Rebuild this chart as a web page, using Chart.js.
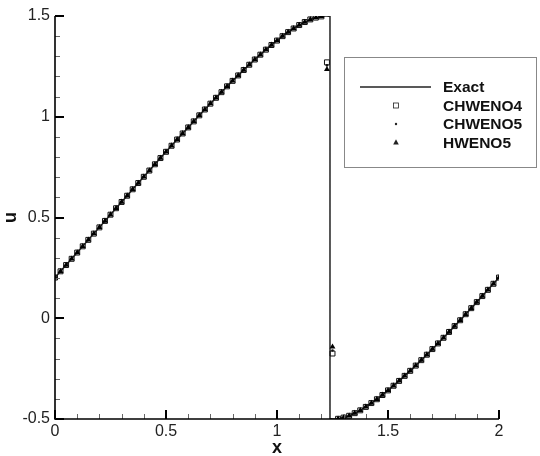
<!DOCTYPE html>
<html>
<head>
<meta charset="utf-8">
<script src="https://cdn.jsdelivr.net/npm/chart.js@4.4.1/dist/chart.umd.min.js"></script>
<style>
  html, body { margin: 0; padding: 0; background: #fff; }
  #wrap { width: 540px; height: 456px; }
</style>
</head>
<body>
<div id="wrap"><canvas id="chart" width="540" height="456"></canvas></div>
<script>
// grid points of the numerical solutions
const xGrid = [
  0, 0.025, 0.05, 0.075, 0.1, 0.125, 0.15, 0.175, 0.2, 0.225,
  0.25, 0.275, 0.3, 0.325, 0.35, 0.375, 0.4, 0.425, 0.45, 0.475,
  0.5, 0.525, 0.55, 0.575, 0.6, 0.625, 0.65, 0.675, 0.7, 0.725,
  0.75, 0.775, 0.8, 0.825, 0.85, 0.875, 0.9, 0.925, 0.95, 0.975,
  1, 1.025, 1.05, 1.075, 1.1, 1.125, 1.15, 1.175, 1.2, 1.225,
  1.25, 1.275, 1.3, 1.325, 1.35, 1.375, 1.4, 1.425, 1.45, 1.475,
  1.5, 1.525, 1.55, 1.575, 1.6, 1.625, 1.65, 1.675, 1.7, 1.725,
  1.75, 1.775, 1.8, 1.825, 1.85, 1.875, 1.9, 1.925, 1.95, 1.975, 2
];
// values where all schemes sit on the exact curve (null = cells at the shock)
const uSmooth = [
  0.202, 0.233, 0.264, 0.295, 0.326, 0.357, 0.389, 0.420, 0.451, 0.483,
  0.514, 0.546, 0.577, 0.608, 0.640, 0.671, 0.702, 0.733, 0.764, 0.795,
  0.826, 0.856, 0.887, 0.917, 0.947, 0.977, 1.007, 1.036, 1.065, 1.094,
  1.122, 1.151, 1.178, 1.205, 1.232, 1.258, 1.284, 1.308, 1.333, 1.356,
  1.378, 1.400, 1.420, 1.438, 1.455, 1.470, 1.483, 1.492, 1.498, null,
  null, -0.499, -0.493, -0.484, -0.471, -0.457, -0.440, -0.421, -0.402, -0.381,
  -0.358, -0.335, -0.311, -0.286, -0.261, -0.235, -0.208, -0.181, -0.153, -0.125,
  -0.097, -0.068, -0.039, -0.010, 0.020, 0.050, 0.080, 0.110, 0.141, 0.171, 0.202
];
// the two cells in the shock, per scheme
const shockX = [1.225, 1.25];
const chweno4Shock = [1.27, -0.175];
const chweno5Shock = [1.255, -0.16];
const hweno5Shock = [1.235, -0.142];
// extra points of the exact solution round the shock
const exactShockX = [1.2162, 1.2253, 1.2387, 1.2387, 1.25, 1.2613];
const exactShockU = [1.5, 1.4996, 1.4972, -0.4972, -0.4995, -0.5];

const xTickLabels = ['0', '0.5', '1', '1.5', '2'];
const yTickLabels = ['-0.5', '0', '0.5', '1', '1.5'];
const seriesNames = ['Exact', 'CHWENO4', 'CHWENO5', 'HWENO5'];

function schemePoints(shockVals) {
    const pts = [];
    xGrid.forEach((x, i) => {
        const k = shockX.indexOf(x);
        const u = k >= 0 ? shockVals[k] : uSmooth[i];
        pts.push({ x: x, y: u });
    });
    return pts;
}

// exact: smooth points left of the shock, the shock itself, then the right side
const exactPts = [];
xGrid.forEach((x, i) => {
    if (uSmooth[i] !== null && x < exactShockX[2]) exactPts.push({ x: x, y: uSmooth[i] });
});
exactShockX.forEach((x, i) => exactPts.push({ x: x, y: exactShockU[i] }));
xGrid.forEach((x, i) => {
    if (uSmooth[i] !== null && x > exactShockX[5]) exactPts.push({ x: x, y: uSmooth[i] });
});

const FONT = "'Liberation Sans', Arial, sans-serif";

// white background
const bgPlugin = {
    id: 'bg',
    beforeDraw(chart) {
        const ctx = chart.ctx;
        ctx.save();
        ctx.fillStyle = '#fff';
        ctx.fillRect(0, 0, chart.width, chart.height);
        ctx.restore();
    }
};

// inward ticks, major every 0.5 and minor every 0.1
const tickPlugin = {
    id: 'inTicks',
    afterDatasetsDraw(chart) {
        const { ctx, scales: { x, y }, chartArea: a } = chart;
        ctx.save();
        for (let i = 0; i <= 20; i++) {
            const major = i % 5 === 0;
            ctx.strokeStyle = major ? '#000' : '#666';
            ctx.lineWidth = major ? 2 : 1;
            const px = Math.round(x.getPixelForValue(i / 10)) + (major ? 0 : 0.5);
            ctx.beginPath();
            ctx.moveTo(px, a.bottom);
            ctx.lineTo(px, a.bottom - (major ? 9 : 5));
            ctx.stroke();
            const py = Math.round(y.getPixelForValue(-0.5 + i / 10)) + (major ? 0 : 0.5);
            ctx.beginPath();
            ctx.moveTo(a.left, py);
            ctx.lineTo(a.left + (major ? 9 : 5), py);
            ctx.stroke();
        }
        ctx.strokeStyle = '#000';
        ctx.lineWidth = 1.6;
        ctx.beginPath();
        ctx.moveTo(a.left, a.top);
        ctx.lineTo(a.left, a.bottom);
        ctx.lineTo(a.right, a.bottom);
        ctx.stroke();
        ctx.restore();
    }
};

// legend box inside the plot
const legendPlugin = {
    id: 'boxLegend',
    afterDraw(chart) {
        const ctx = chart.ctx;
        ctx.save();
        ctx.fillStyle = '#fff';
        ctx.fillRect(344.5, 57.5, 192, 110);
        ctx.strokeStyle = '#888';
        ctx.lineWidth = 1;
        ctx.strokeRect(344.5, 57.5, 192, 110);
        const rows = [87, 105.5, 124, 142.5];
        const mx = 396;
        ctx.strokeStyle = '#222';
        ctx.lineWidth = 1.5;
        ctx.beginPath();
        ctx.moveTo(360, rows[0]);
        ctx.lineTo(431, rows[0]);
        ctx.stroke();
        ctx.lineWidth = 0.8;
        ctx.strokeRect(mx - 2.5, rows[1] - 2.5, 5, 5);
        ctx.fillStyle = '#222';
        ctx.beginPath();
        ctx.arc(mx, rows[2], 1.2, 0, Math.PI * 2);
        ctx.fill();
        ctx.beginPath();
        ctx.moveTo(mx, rows[3] - 3.2);
        ctx.lineTo(mx + 2.8, rows[3] + 2);
        ctx.lineTo(mx - 2.8, rows[3] + 2);
        ctx.closePath();
        ctx.fill();
        ctx.fillStyle = '#111';
        ctx.font = 'bold 15.5px ' + FONT;
        ctx.textBaseline = 'middle';
        seriesNames.forEach((n, i) => ctx.fillText(n, 443, rows[i] + 1));
        ctx.restore();
    }
};

new Chart(document.getElementById('chart'), {
    type: 'scatter',
    data: {
        datasets: [
            {
                label: seriesNames[0],
                data: exactPts,
                showLine: true,
                borderColor: '#222',
                borderWidth: 1.5,
                pointRadius: 0,
                order: 4
            },
            {
                label: seriesNames[1],
                data: schemePoints(chweno4Shock),
                pointStyle: 'rect',
                pointRadius: 3.5,
                borderColor: '#111',
                borderWidth: 1,
                backgroundColor: 'rgba(255,255,255,0)',
                order: 3
            },
            {
                label: seriesNames[2],
                data: schemePoints(chweno5Shock),
                pointStyle: 'circle',
                pointRadius: 1.3,
                borderWidth: 0,
                backgroundColor: '#111',
                order: 2
            },
            {
                label: seriesNames[3],
                data: schemePoints(hweno5Shock),
                pointStyle: 'triangle',
                pointRadius: 3.4,
                borderWidth: 0,
                backgroundColor: '#000',
                order: 1
            }
        ]
    },
    options: {
        responsive: false,
        animation: false,
        layout: { padding: { top: 16, right: 41, left: 0, bottom: 0 } },
        plugins: {
            legend: { display: false },
            tooltip: { enabled: false }
        },
        scales: {
            x: {
                type: 'linear',
                min: 0,
                max: 2,
                grid: { display: false, drawTicks: false },
                border: { display: false },
                ticks: {
                    stepSize: 0.5,
                    padding: 3,
                    color: '#222',
                    font: { family: FONT, size: 16 },
                    callback: (v) => xTickLabels[Math.round(v * 2)]
                },
                title: {
                    display: true,
                    text: 'x',
                    color: '#111',
                    font: { family: FONT, size: 18, weight: 'bold' },
                    padding: { top: 0, bottom: -3 }
                },
                afterFit: (s) => { s.height = 37; }
            },
            y: {
                type: 'linear',
                min: -0.5,
                max: 1.5,
                grid: { display: false, drawTicks: false },
                border: { display: false },
                ticks: {
                    stepSize: 0.5,
                    padding: 5,
                    color: '#222',
                    font: { family: FONT, size: 16 },
                    callback: (v) => yTickLabels[Math.round((v + 0.5) * 2)]
                },
                title: {
                    display: true,
                    text: 'u',
                    color: '#111',
                    font: { family: FONT, size: 18, weight: 'bold' },
                    padding: { top: 0, bottom: 0 }
                },
                afterFit: (s) => { s.width = 55; }
            }
        }
    },
    plugins: [bgPlugin, tickPlugin, legendPlugin]
});
</script>
</body>
</html>
